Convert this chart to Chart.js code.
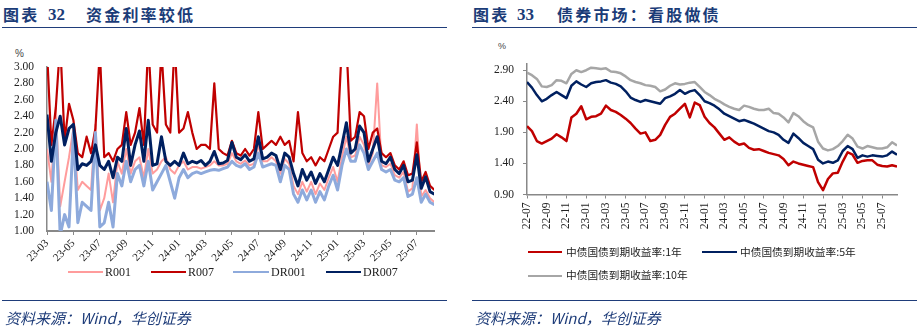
<!DOCTYPE html>
<html>
<head>
<meta charset="utf-8">
<script src="https://cdn.jsdelivr.net/npm/chart.js"></script>
<style>
body { margin: 0; width: 920px; height: 329px; position: relative; background: #fff; overflow: hidden; }
.t { position: absolute; white-space: nowrap; line-height: 1; }
.title { font-family: "Noto Sans CJK SC"; font-weight: bold; font-size: 16px; color: #1b3c78; top: 6px; letter-spacing: 2.2px; }
.num { font-family: "Liberation Serif"; font-weight: bold; font-size: 17px; color: #1b3c78; top: 6px; }
.rule { position: absolute; height: 0; border-top: 1.5px solid #1f3d7a; }
.src { font-family: "Noto Sans CJK SC"; font-style: italic; font-size: 15px; color: #1f3d7a; top: 310px; }
.pct { font-family: "Liberation Sans"; font-size: 10px; color: #444; }
.lg { position: absolute; height: 2px; }
.lgt { font-family: "Liberation Serif"; font-size: 12px; color: #222; }
.lgc { font-family: "Noto Sans CJK SC"; font-size: 10.7px; color: #222; }
canvas { position: absolute; top: 0; }
</style>
</head>
<body>
<!-- left panel -->
<span class="t title" style="left:3px">图表</span>
<span class="t num" style="left:48px">32</span>
<span class="t title" style="left:86px">资金利率较低</span>
<div class="rule" style="left:2px; width:445px; top:27px"></div>
<span class="t pct" style="left:15px; top:49px">%</span>
<canvas id="c1" width="460" height="329" style="left:0"></canvas>
<div class="lg" style="left:68px; width:35px; top:271px; background:#ff9c9c"></div>
<span class="t lgt" style="left:105px; top:266px">R001</span>
<div class="lg" style="left:151px; width:35px; top:271px; background:#c00000"></div>
<span class="t lgt" style="left:188px; top:266px">R007</span>
<div class="lg" style="left:233px; width:36px; top:271px; background:#8eaadc"></div>
<span class="t lgt" style="left:271px; top:266px">DR001</span>
<div class="lg" style="left:326px; width:35px; top:271px; background:#002060"></div>
<span class="t lgt" style="left:363px; top:266px">DR007</span>
<div class="rule" style="left:2px; width:445px; top:300px"></div>
<span class="t src" style="left:5px">资料来源：Wind，华创证券</span>

<!-- right panel -->
<span class="t title" style="left:473px">图表</span>
<span class="t num" style="left:517px">33</span>
<span class="t title" style="left:557px">债券市场：看股做债</span>
<div class="rule" style="left:472px; width:445px; top:27px"></div>
<span class="t pct" style="left:498px; top:42px; font-size:9px">%</span>
<canvas id="c2" width="460" height="329" style="left:460px"></canvas>
<div class="lg" style="left:528px; width:34px; top:251px; background:#c00000"></div>
<span class="t lgc" style="left:566px; top:247px">中债国债到期收益率:1年</span>
<div class="lg" style="left:702px; width:35px; top:251px; background:#002060"></div>
<span class="t lgc" style="left:740px; top:247px">中债国债到期收益率:5年</span>
<div class="lg" style="left:528px; width:34px; top:275px; background:#a6a6a6"></div>
<span class="t lgc" style="left:566px; top:270px">中债国债到期收益率:10年</span>
<div class="rule" style="left:472px; width:445px; top:300px"></div>
<span class="t src" style="left:475px">资料来源：Wind，华创证券</span>

<script>
// money market rates, 3 readings per month starting 2023-03
const rateTicks = ['23-03','23-05','23-07','23-09','23-11','24-01','24-03','24-05','24-07','24-09','24-11','25-01','25-03','25-05','25-07'];
const rateYTicks = [1.0, 1.2, 1.4, 1.6, 1.8, 2.0, 2.2, 2.4, 2.6, 2.8, 3.0];
const r001 = [
  2.0, 1.6, 2.5,   1.3, 1.6, 1.9,   2.25, 1.5, 1.6,  1.55, 1.5, 2.3,  1.25, 1.4, 1.7,  1.35, 1.85, 1.7,
  2.0, 1.7, 1.85,  1.9, 1.65, 2.0,  1.7, 1.75, 1.85, 1.9, 1.75, 1.7,  1.8, 1.85, 1.75, 1.78, 1.78, 1.76,
  1.78, 1.8, 1.85, 1.8, 1.8, 1.82,  1.95, 1.85, 1.82, 1.86, 1.8, 1.82, 2.05, 1.85, 1.85, 1.9, 1.85, 1.7,
  1.88, 1.82, 1.55, 1.45, 1.6, 1.48, 1.6, 1.45, 1.58, 1.5, 1.65, 1.78, 1.6, 1.9, 2.15,  1.9, 1.92, 2.15,
  2.05, 1.8, 1.95, 2.8, 1.8, 1.78,  1.82, 1.68, 1.65, 1.72, 1.48, 1.52, 2.3, 1.42, 1.5,  1.4, 1.35
];
const r007 = [
  3.2, 2.05, 2.5,  3.3, 2.1, 2.55,  2.35, 1.95, 1.9, 2.15, 1.95, 2.25, 3.2, 1.9, 1.95,  1.85, 2.0, 2.05,
  2.45, 2.05, 2.2, 2.5, 2.05, 3.3,  2.3, 2.2, 3.2,   2.3, 2.2, 3.3,   2.2, 2.25, 2.45,  2.2, 2.0, 2.05,
  2.05, 2.0, 2.8,  2.0, 1.95, 1.92, 2.1, 1.95, 1.92, 2.0, 1.92, 2.0,  2.45, 2.0, 2.05,  2.1, 2.05, 2.15,
  2.05, 2.1, 1.85, 2.45, 1.95, 1.85, 1.9, 1.8, 1.9,  1.85, 2.0, 2.15,  2.2, 3.3, 3.3,   2.1, 2.15, 2.45,
  2.4, 2.0, 2.2,   2.25, 1.95, 1.9, 1.95, 1.8, 1.75, 1.85, 1.68, 1.7, 2.08, 1.6, 1.72,  1.55, 1.5
];
const dr001 = [
  1.6, 1.25, 2.35, 0.95, 1.2, 1.05, 2.2, 1.1, 1.35,  1.3, 1.25, 2.2,  1.05, 1.1, 1.35, 1.05, 1.7, 1.55,
  1.85, 1.6, 1.75, 1.8, 1.55, 1.85, 1.5, 1.6, 1.7,   1.8, 1.6, 1.4,   1.65, 1.75, 1.65, 1.7, 1.72, 1.7,
  1.72, 1.74, 1.75, 1.74, 1.76, 1.78, 1.85, 1.8, 1.78, 1.82, 1.75, 1.78, 1.95, 1.78, 1.8, 1.82, 1.8, 1.6,
  1.8, 1.75, 1.45, 1.35, 1.5, 1.38, 1.5, 1.35, 1.48, 1.38, 1.55, 1.68, 1.5, 1.8, 2.0,   1.85, 1.85, 2.05,
  1.95, 1.75, 1.85, 1.95, 1.75, 1.72, 1.75, 1.62, 1.6, 1.65, 1.42, 1.45, 1.65, 1.35, 1.45, 1.35, 1.32
];
const dr007 = [
  2.42, 1.85, 2.2, 2.4, 2.05, 2.25, 2.3, 1.75, 1.82, 1.8, 1.85, 2.05, 1.8, 1.75, 1.85,  1.65, 1.9, 1.85,
  2.25, 1.8, 2.05, 2.22, 1.85, 2.35, 1.8, 1.82, 2.15, 1.85, 1.8, 1.85, 1.8, 1.95, 1.82,  1.85, 1.83, 1.86,
  1.8, 1.85, 1.97, 1.82, 1.83, 1.86, 2.08, 1.9, 1.87, 1.93, 1.85, 1.88, 2.15, 1.88, 1.9, 1.95, 1.92, 1.75,
  1.95, 1.9, 1.7,  1.55, 1.75, 1.62, 1.72, 1.58, 1.7, 1.6, 1.75, 1.9,   1.8, 2.05, 2.32,  1.95, 2.0, 2.28,
  2.2, 1.85, 2.0,  2.15, 1.85, 1.82, 1.9, 1.75, 1.7,  1.8, 1.6, 1.62,  1.93, 1.52, 1.66, 1.48, 1.45
];
const rateX = r001.map((_, i) => i / 3);

// treasury yields, 2 readings per month starting 2022-07
const bondTicks = ['22-07','22-09','22-11','23-01','23-03','23-05','23-07','23-09','23-11','24-01','24-03','24-05','24-07','24-09','24-11','25-01','25-03','25-05','25-07'];
const bondYTicks = [0.9, 1.4, 1.9, 2.4, 2.9];
const y1 = [
  2.00,1.92,1.76,1.72,1.76,1.80,1.87,1.82,1.76,2.14, 2.20,2.32,2.11,2.15,2.16,2.20,2.33,2.26,2.23,2.18,
  2.12,2.05,1.96,1.88,1.90,1.76,1.78,1.86,2.02,2.15, 2.20,2.28,2.36,2.14,2.38,2.34,2.15,2.05,1.98,1.88,
  1.78,1.82,1.75,1.70,1.72,1.65,1.62,1.63,1.60,1.57, 1.55,1.53,1.47,1.37,1.43,1.40,1.38,1.36,1.34,1.10,
  0.97,1.15,1.24,1.25,1.43,1.58,1.54,1.41,1.44,1.45, 1.45,1.38,1.36,1.35,1.37,1.35
];
const y5 = [
  2.71,2.62,2.50,2.40,2.44,2.50,2.55,2.50,2.45,2.65, 2.72,2.67,2.63,2.69,2.71,2.72,2.74,2.70,2.68,2.64,
  2.56,2.46,2.42,2.39,2.42,2.40,2.38,2.36,2.45,2.48, 2.52,2.58,2.52,2.56,2.58,2.50,2.40,2.37,2.33,2.27,
  2.20,2.16,2.12,2.08,2.10,2.07,2.04,2.00,1.96,1.92, 1.90,1.86,1.78,1.73,1.88,1.81,1.73,1.68,1.63,1.46,
  1.40,1.43,1.41,1.45,1.60,1.68,1.63,1.49,1.53,1.51, 1.53,1.52,1.51,1.53,1.59,1.54
];
const y10 = [
  2.86,2.82,2.76,2.64,2.63,2.66,2.74,2.73,2.69,2.84, 2.90,2.87,2.90,2.94,2.93,2.92,2.93,2.88,2.87,2.85,
  2.80,2.74,2.71,2.69,2.66,2.65,2.63,2.56,2.59,2.65, 2.69,2.67,2.68,2.70,2.71,2.63,2.55,2.50,2.44,2.40,
  2.35,2.31,2.28,2.26,2.33,2.31,2.28,2.26,2.26,2.28, 2.21,2.20,2.14,2.06,2.21,2.16,2.08,2.02,1.98,1.75,
  1.64,1.61,1.63,1.68,1.76,1.86,1.80,1.67,1.64,1.68, 1.66,1.64,1.64,1.66,1.74,1.69
];
const bondX = y1.map((_, i) => i / 2);

function pts(xs, ys) {
  return xs.map((x, i) => ({ x: x, y: ys[i] }));
}

const serif = 'Liberation Serif';
const axisGrey = '#888';

new Chart(document.getElementById('c1'), {
  type: 'line',
  data: {
    datasets: [
      { label: 'R001', data: pts(rateX, r001), borderColor: '#ff9c9c', borderWidth: 2, order: 3 },
      { label: 'R007', data: pts(rateX, r007), borderColor: '#c00000', borderWidth: 2.2, order: 2 },
      { label: 'DR001', data: pts(rateX, dr001), borderColor: '#8eaadc', borderWidth: 3, order: 1 },
      { label: 'DR007', data: pts(rateX, dr007), borderColor: '#002060', borderWidth: 3, order: 0 },
    ],
  },
  options: {
    responsive: false,
    animation: false,
    devicePixelRatio: 1,
    layout: { padding: { left: 0, top: 67, right: 26, bottom: 58 } },
    plugins: { legend: { display: false }, tooltip: { enabled: false } },
    elements: { point: { radius: 0 }, line: { tension: 0, borderJoinStyle: 'round' } },
    scales: {
      x: {
        type: 'linear', min: 0, max: 29.3,
        afterFit: s => { s.height = 40; },
        afterBuildTicks: s => { s.ticks = rateTicks.map((_, i) => ({ value: i * 2 })); },
        ticks: {
          autoSkip: false, minRotation: 45, maxRotation: 45, padding: 2,
          font: { family: serif, size: 11 }, color: '#222',
          callback: v => rateTicks[Math.round(v / 2)],
        },
        grid: { drawOnChartArea: false, drawTicks: true, tickLength: 4, color: axisGrey },
        border: { color: axisGrey, width: 2 },
      },
      y: {
        min: 1, max: 3,
        afterFit: s => { s.width = 47; },
        afterBuildTicks: s => { s.ticks = rateYTicks.map(v => ({ value: v })); },
        ticks: {
          autoSkip: false, padding: 13,
          font: { family: serif, size: 11.5 }, color: '#222',
          callback: v => v.toFixed(2),
        },
        grid: { display: false, drawTicks: false },
        border: { color: axisGrey, width: 1.5 },
      },
    },
  },
});

new Chart(document.getElementById('c2'), {
  type: 'line',
  data: {
    datasets: [
      { label: '中债国债到期收益率:1年', data: pts(bondX, y1), borderColor: '#c00000', borderWidth: 2.5 },
      { label: '中债国债到期收益率:5年', data: pts(bondX, y5), borderColor: '#002060', borderWidth: 2.5 },
      { label: '中债国债到期收益率:10年', data: pts(bondX, y10), borderColor: '#a6a6a6', borderWidth: 2.5 },
    ],
  },
  options: {
    responsive: false,
    animation: false,
    devicePixelRatio: 1,
    layout: { padding: { left: 0, top: 64, right: 23, bottom: 94.5 } },
    plugins: { legend: { display: false }, tooltip: { enabled: false } },
    elements: { point: { radius: 0 }, line: { tension: 0, borderJoinStyle: 'round' } },
    scales: {
      x: {
        type: 'linear', min: 0, max: 37.5,
        afterFit: s => { s.height = 40; },
        afterBuildTicks: s => { s.ticks = bondTicks.map((_, i) => ({ value: i * 2 })); },
        ticks: {
          autoSkip: false, minRotation: 90, maxRotation: 90, padding: 4,
          font: { family: serif, size: 11.5 }, color: '#222',
          callback: v => bondTicks[Math.round(v / 2)],
        },
        grid: { drawOnChartArea: false, drawTicks: true, tickLength: 4, color: axisGrey },
        border: { color: axisGrey, width: 1.5 },
      },
      y: {
        min: 0.9, max: 3.0,
        afterFit: s => { s.width = 67; },
        afterBuildTicks: s => { s.ticks = bondYTicks.map(v => ({ value: v })); },
        ticks: {
          autoSkip: false, padding: 9,
          font: { family: serif, size: 11.5 }, color: '#222',
          callback: v => v.toFixed(2),
        },
        grid: { drawOnChartArea: false, drawTicks: true, tickLength: 4, color: axisGrey },
        border: { color: axisGrey, width: 1.5 },
      },
    },
  },
});
</script>
</body>
</html>
